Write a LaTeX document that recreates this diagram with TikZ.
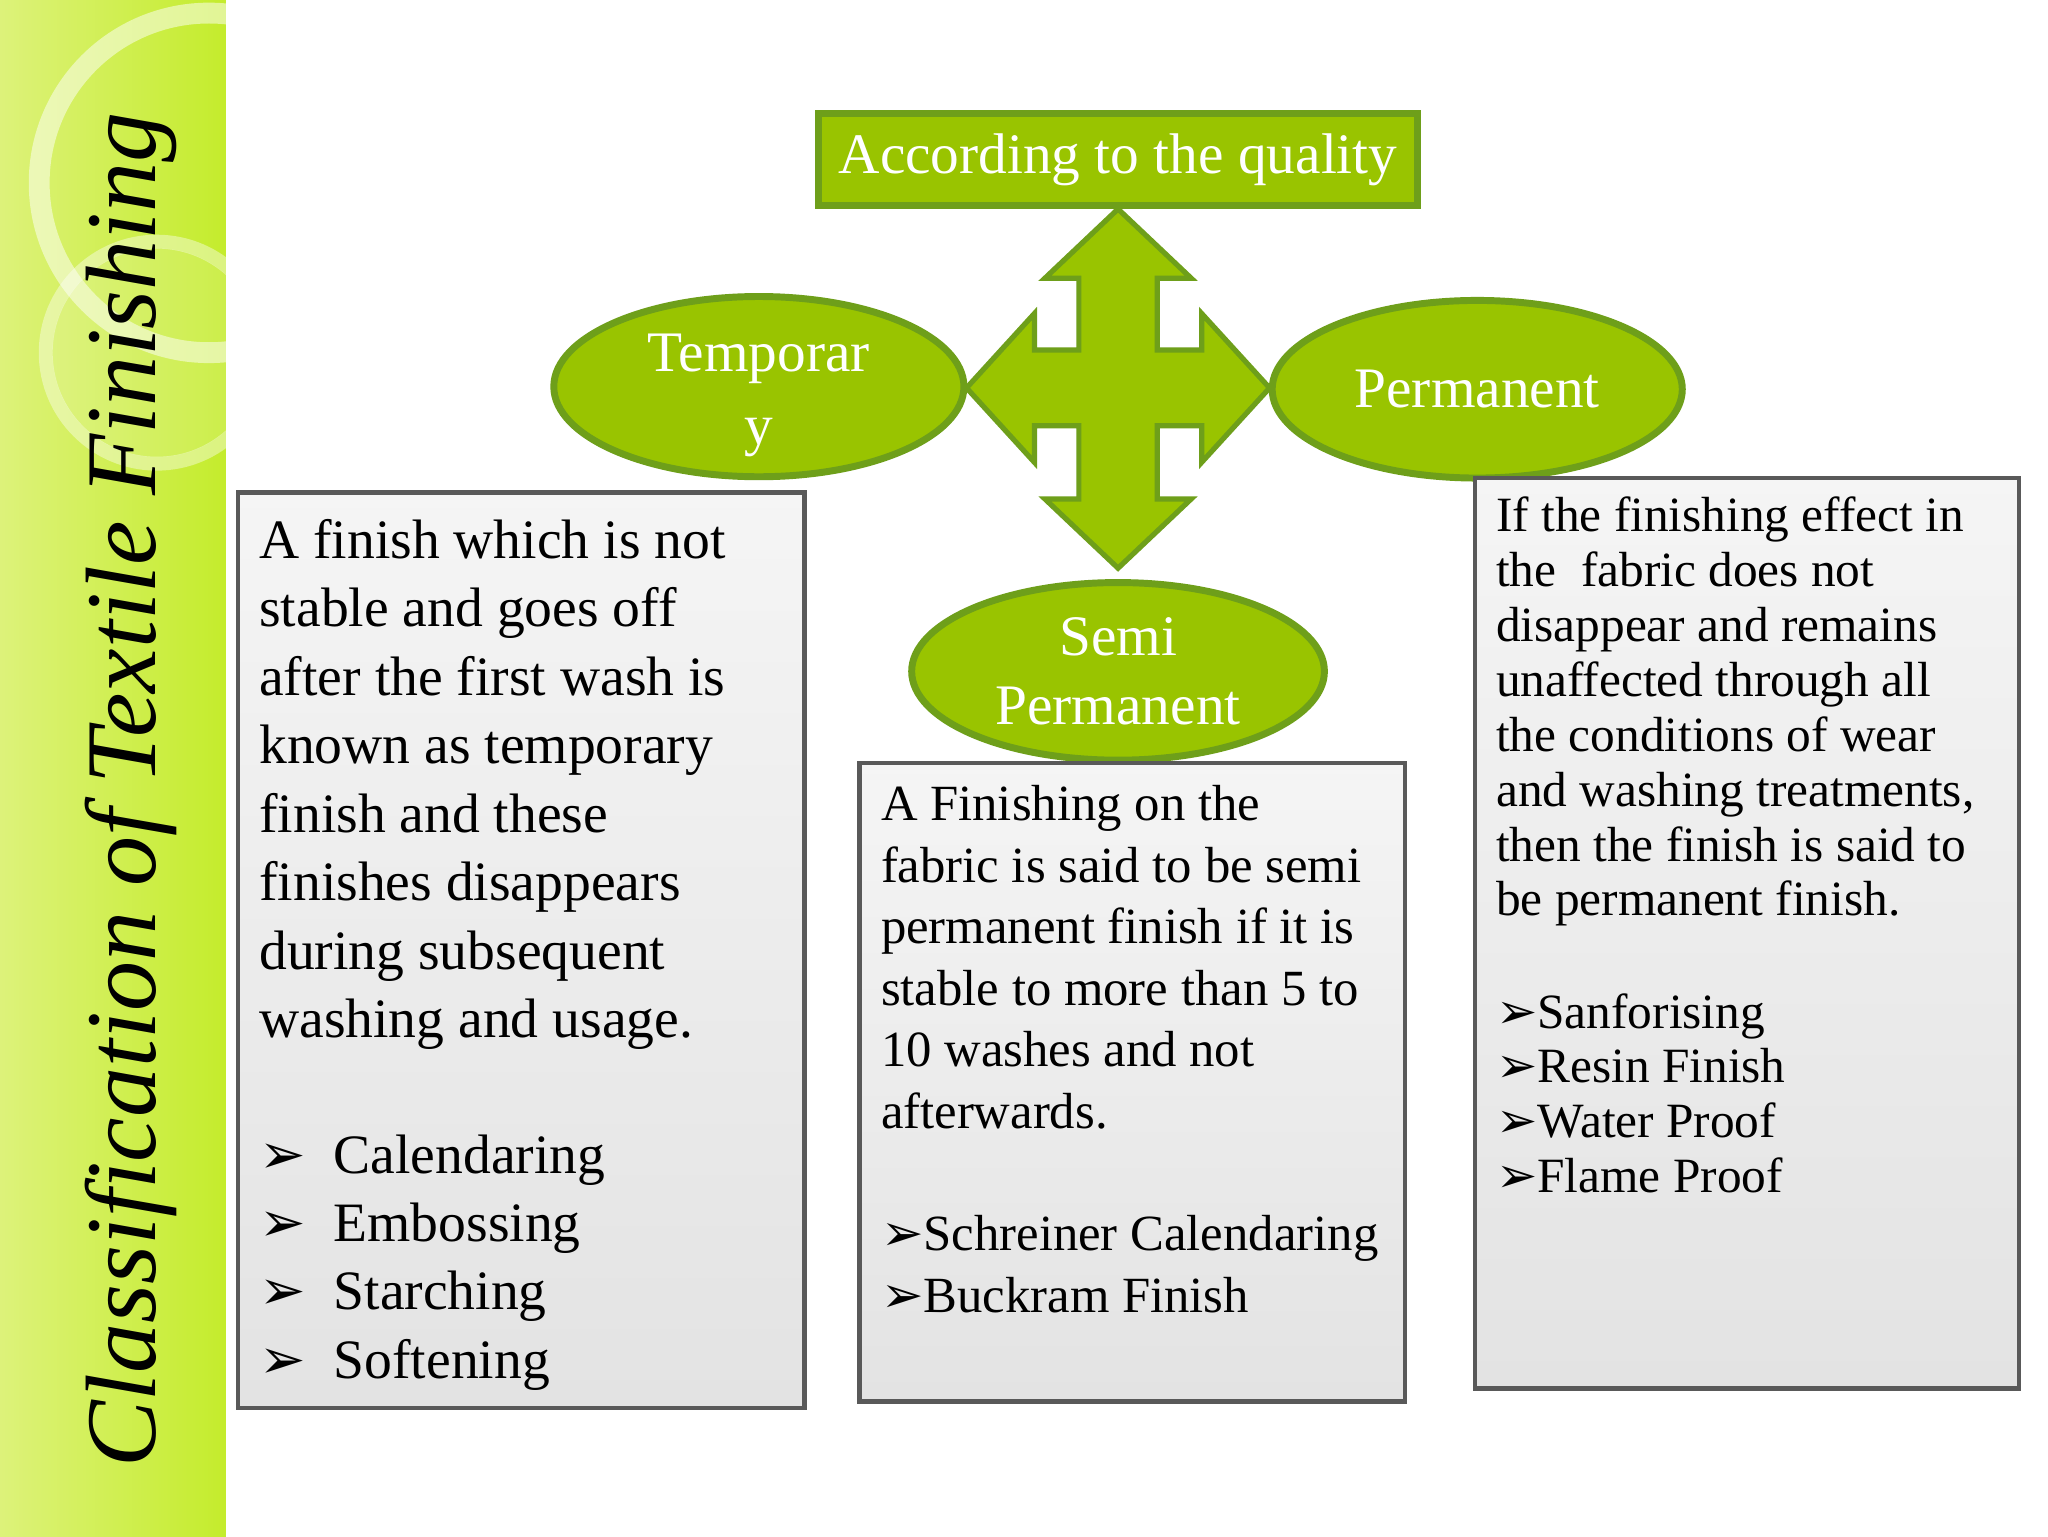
\documentclass[tikz,border=0pt]{standalone}
\usepackage{fontspec}
\usetikzlibrary{shapes.geometric}
\setmainfont{Liberation Serif}
\newfontfamily\dejavu{DejaVu Sans}
\definecolor{gfill}{HTML}{99C400}
\definecolor{gline}{HTML}{6E9F1A}
\definecolor{stripA}{HTML}{DDF27A}
\definecolor{stripB}{HTML}{C4EC2C}
\begin{document}
\begin{tikzpicture}[x=0.01321cm,y=-0.01321cm,
  gbox/.style={draw=gray!70!black,line width=1.2pt,top color=gray!8,bottom color=gray!22},
  gell/.style={ellipse,draw=gline,line width=2pt,fill=gfill,text=white,inner sep=0pt},
  txt/.style={anchor=north west,align=left,inner sep=0pt}]
\newcommand{\bul}{{\dejavu\char"27A2}}
\useasboundingbox (0,0) rectangle (1568,1176);
\fill[white] (0,0) rectangle (1568,1176);
% left strip
\shade[left color=stripA, right color=stripB] (0,0) rectangle (173,1176);
\begin{scope}
\clip (0,0) rectangle (173,1176);
\draw[white,opacity=0.5,line width=6pt] (160,140) circle (130);
\draw[white,opacity=0.4,line width=4pt] (120,270) circle (85);
\fill[white,opacity=0.15] (120,270) circle (80);
\end{scope}
\node[rotate=90,font=\fontsize{28.8}{32}\selectfont\itshape] (title) at (100,605) {Classification of Textile Finishing};
% top box
\node[draw=gline,line width=2pt,fill=gfill,text=white,minimum width=459*0.01321cm,minimum height=70*0.01321cm,font=\fontsize{16.5}{20}\selectfont] (top) at (856,122) {According to the quality};
% arrow cross
\filldraw[fill=gfill,draw=gline,line width=1.5pt]
 (856,160)--(800,213)--(826,213)--(826,268)--(792,268)--(792,240)--(740,297)--(792,354)--(792,326)--(826,326)--(826,382)--(800,382)--(856,435)--(912,382)--(886,382)--(886,326)--(920,326)--(920,354)--(972,297)--(920,240)--(920,268)--(886,268)--(886,213)--(912,213)--cycle;
% ellipses
\node[gell,minimum width=314*0.01321cm,minimum height=138*0.01321cm] (temp) at (581,296) {};
\node[text=white,align=center,font=\fontsize{16.5}{21}\selectfont] (templ) at (581,303) {Temporar\\y};
\node[gell,minimum width=314*0.01321cm,minimum height=136*0.01321cm,font=\fontsize{16.5}{21}\selectfont] (perm) at (1131,298) {Permanent};
\node[gell,minimum width=316*0.01321cm,minimum height=136*0.01321cm,align=center,font=\fontsize{16.5}{20}\selectfont] (semi) at (856,514) {Semi\\Permanent};
% boxes
\draw[gbox] (182,377) rectangle (616,1078);
\draw[gbox] (658,584) rectangle (1076,1073);
\draw[gbox] (1129,366) rectangle (1546,1063);
\node[txt,font=\fontsize{16}{19.7}\selectfont] (lt) at (198,397) {A finish which is not\\stable and goes off\\after the first wash is\\known as temporary\\finish and these\\finishes disappears\\during subsequent\\washing and usage.};
\node[txt,font=\fontsize{16}{19.7}\selectfont] (lb) at (198,868) {\bul\ \ Calendaring\\\bul\ \ Embossing\\\bul\ \ Starching\\\bul\ \ Softening};
\node[txt,font=\fontsize{14.6}{17.7}\selectfont] (mt) at (674,601) {A Finishing on the\\fabric is said to be semi\\permanent finish if it is\\stable to more than 5 to\\10 washes and not\\afterwards.};
\node[txt,font=\fontsize{14.6}{17.7}\selectfont] (mb) at (674,930) {\bul Schreiner Calendaring\\\bul Buckram Finish};
\node[txt,font=\fontsize{14.2}{15.8}\selectfont] (rt) at (1145,380) {If the finishing effect in\\the \ fabric does not\\disappear and remains\\unaffected through all\\the conditions of wear\\and washing treatments,\\then the finish is said to\\be permanent finish.};
\node[txt,font=\fontsize{14.2}{15.8}\selectfont] (rb) at (1145,760) {\bul Sanforising\\\bul Resin Finish\\\bul Water Proof\\\bul Flame Proof};
\end{tikzpicture}
\end{document}
